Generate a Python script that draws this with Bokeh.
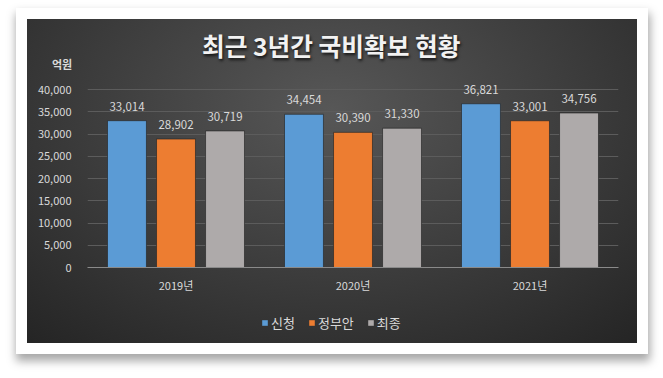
from bokeh.plotting import figure
from bokeh.layouts import column
from bokeh.models import (ColumnDataSource, FactorRange, FixedTicker, NumeralTickFormatter,
                          Legend, LegendItem, Range1d, Div)
from bokeh.transform import dodge
from bokeh.core.properties import value
from bokeh.embed import file_html
from bokeh.resources import INLINE

# ---- data ----
years = ["2019년", "2020년", "2021년"]
series = ["신청", "정부안", "최종"]
apply_vals = [33014, 34454, 36821]
gov_vals = [28902, 30390, 33001]
final_vals = [30719, 31330, 34756]
y_ticks = [0, 5000, 10000, 15000, 20000, 25000, 30000, 35000, 40000]
title_text = "최근 3년간 국비확보 현황"
unit_text = "억원"

# ---- style / layout ----
FONT = "Noto Sans CJK KR"
colors = ["#5b9bd5", "#ed7d31", "#aeaaaa"]
offsets = [-0.277, 0.0, 0.277]
W = 610
H_TOP, H_MAIN, H_LEG = 52, 240, 32
ML, MR, MT, MB = 60, 19, 7, 44
Y_END = 42500

# ---- header: title (with soft shadow) and unit label ----
header_html = (
    f'<div style="position:relative;width:{W}px;height:{H_TOP}px;overflow:hidden;'
    f'font-family:\'{FONT}\';">'
    f'<div style="position:absolute;left:175px;top:10.5px;line-height:30px;white-space:nowrap;'
    f'font-size:24.7px;font-weight:bold;color:#f2f2f2;'
    f'text-shadow:1px 2px 3px rgba(0,0,0,0.75);">{title_text}</div>'
    f'<div style="position:absolute;left:25px;top:37.8px;line-height:14px;white-space:nowrap;'
    f'font-size:11px;font-weight:bold;color:#d9d9d9;">{unit_text}</div>'
    f'</div>'
)
header = Div(text=header_html, width=W, height=H_TOP, margin=0)

# ---- main chart ----
p = figure(width=W, height=H_MAIN, x_range=FactorRange(*years), y_range=Range1d(0, Y_END),
           title=None, output_backend="svg", toolbar_location=None,
           min_border_left=ML, min_border_right=MR, min_border_top=MT, min_border_bottom=MB)
p.border_fill_alpha = 0
p.background_fill_alpha = 0
p.outline_line_color = None

vals_list = [apply_vals, gov_vals, final_vals]
sources = []
for vals, off, col in zip(vals_list, offsets, colors):
    src = ColumnDataSource(dict(year=years, val=vals, lbl=[f"{v:,}" for v in vals]))
    sources.append(src)
    p.vbar(x=dodge("year", off, range=p.x_range), top="val", width=0.22, source=src,
           fill_color=col, line_color="#2a2a2a", line_alpha=0.7, line_width=1)
    p.text(x=dodge("year", off, range=p.x_range), y="val", text="lbl", source=src,
           text_align="center", text_baseline="bottom", y_offset=-10,
           text_font=value(FONT), text_font_size="11.5px", text_color="#d9d9d9")

p.yaxis.ticker = FixedTicker(ticks=y_ticks)
p.yaxis.formatter = NumeralTickFormatter(format="0,0")
p.yaxis.axis_line_color = None
p.yaxis.major_tick_line_color = None
p.yaxis.minor_tick_line_color = None
p.yaxis.major_label_standoff = 10
p.yaxis.major_label_text_color = "#d9d9d9"
p.yaxis.major_label_text_font = FONT
p.yaxis.major_label_text_font_size = "11px"

p.ygrid.ticker = FixedTicker(ticks=y_ticks)
p.ygrid.grid_line_color = "#5c5c5c"
p.xgrid.grid_line_color = None

p.xaxis.axis_line_color = "#8a8a8a"
p.xaxis.major_tick_line_color = None
p.xaxis.minor_tick_line_color = None
p.xaxis.major_label_standoff = 3
p.xaxis.major_label_text_color = "#d9d9d9"
p.xaxis.major_label_text_font = FONT
p.xaxis.major_label_text_font_size = "11px"

# ---- legend strip: same series as hidden bars (only their legend swatches show) ----
pl = figure(width=W, height=H_LEG, x_range=FactorRange(*years), y_range=Range1d(-2, -1),
            x_axis_type=None, y_axis_type=None, title=None,
            output_backend="svg", toolbar_location=None, min_border=0)
pl.border_fill_alpha = 0
pl.background_fill_alpha = 0
pl.outline_line_color = None
pl.grid.visible = False
swatches = [pl.vbar(x=dodge("year", off, range=pl.x_range), top="val", bottom="val", width=0.22,
                    source=src, fill_color=c, line_color=None, visible=False)
            for src, off, c in zip(sources, offsets, colors)]
legend = Legend(items=[LegendItem(label=s, renderers=[r]) for s, r in zip(series, swatches)],
                orientation="horizontal", location=(174, 11), margin=0, padding=0,
                background_fill_alpha=0, border_line_alpha=0, inactive_fill_alpha=0,
                label_text_color="#d9d9d9", label_text_font=FONT, label_text_font_size="13px",
                glyph_width=7, glyph_height=7, label_standoff=3, spacing=13, label_height=14)
pl.add_layout(legend)

layout = column(header, p, pl, spacing=0)
layout.margin = (19, 0, 0, 27)
layout.styles = {
    "background": "radial-gradient(ellipse 75% 95% at 50% 28%, #575757 0%, #3e3e3e 50%, #252525 100%)",
    "box-shadow": "0 0 0 11px #ffffff, 1px 6px 9px 12px rgba(0,0,0,0.35)",
}

open("out.html", "w").write(file_html(layout, INLINE))
